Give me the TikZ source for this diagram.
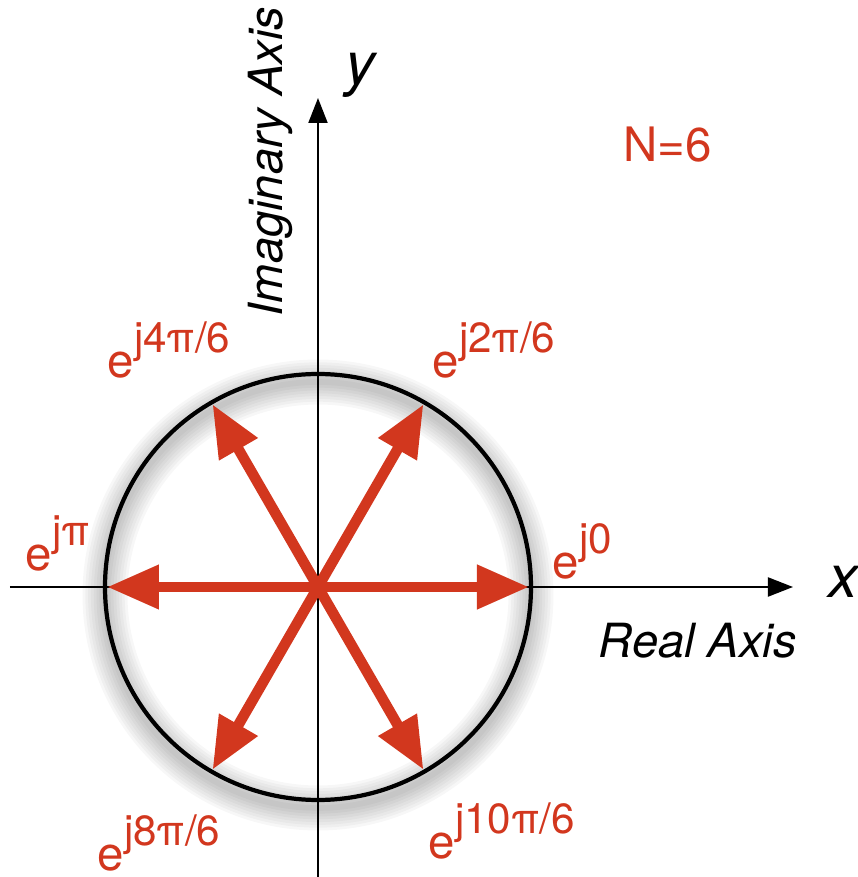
\documentclass[tikz,border=0pt]{standalone}
\usepackage{fontspec}
\setmainfont{TeX Gyre Heros}
\usetikzlibrary{arrows.meta}
\definecolor{phasorred}{RGB}{210,55,30}
\newcommand{\ephase}[1]{e\raisebox{0.25cm}{\fontsize{12}{12}\selectfont j#1}}

\begin{document}
\begin{tikzpicture}[
    axis/.style={line width=0.6pt, -{Triangle[length=0.25cm, width=0.19cm]}},
    ring/.style={line width=1.2pt},
    phasor/.style={phasorred, line width=3pt, -{Triangle[length=0.52cm, width=0.42cm]}},
    rootlbl/.style={text=phasorred, font=\fontsize{13.5}{13.5}\selectfont, inner sep=0pt, anchor=base west},
    axlbl/.style={font=\fontsize{13.4}{14}\selectfont\itshape, inner sep=0pt, anchor=base west},
    varlbl/.style={font=\fontsize{17}{17}\selectfont\itshape, inner sep=0pt, anchor=base west}
]
\useasboundingbox (-3.18,-2.90) rectangle (5.40,5.87);

% soft shadow under the unit circle
\foreach \w in {1,...,8}
  \draw[black, opacity=0.03, line width=\w*1.6pt] (0,-0.08) circle (2.13);

% axes
\coordinate (O) at (0,0);
\coordinate (xL) at (-3.08,0);
\coordinate (xR) at (4.75,0);
\coordinate (yB) at (0,-2.90);
\coordinate (yT) at (0,4.89);
\draw[axis] (xL) -- (xR);
\draw[axis] (yB) -- (yT);

\draw[ring] (O) circle (2.13);

% the six roots
\foreach \k in {0,...,5}
  \coordinate (P\k) at (\k*60:2.11);
\foreach \k in {0,...,5}
  \draw[phasor] (O) -- (P\k);

\node[rootlbl] (r0) at (2.34,0.09) {\ephase{0}};
\node[rootlbl] (r1) at (1.14,2.10) {\ephase{2π/6}};
\node[rootlbl] (r2) at (-2.11,2.10) {\ephase{4π/6}};
\node[rootlbl] (r3) at (-2.93,0.17) {\ephase{π}};
\node[rootlbl] (r4) at (-2.21,-2.83) {\ephase{8π/6}};
\node[rootlbl] (r5) at (1.10,-2.71) {\ephase{10π/6}};
\node[rootlbl] (N) at (3.05,4.25) {N=6};

% axis names
\node[axlbl] (re) at (2.80,-0.70) {Real Axis};
\node[axlbl, rotate=90] (im) at (-0.35,2.70) {Imaginary Axis};
\node[varlbl] (xlbl) at (5.10,-0.10) {x};
\node[varlbl] (ylbl) at (0.27,5.02) {y};
\end{tikzpicture}
\end{document}
